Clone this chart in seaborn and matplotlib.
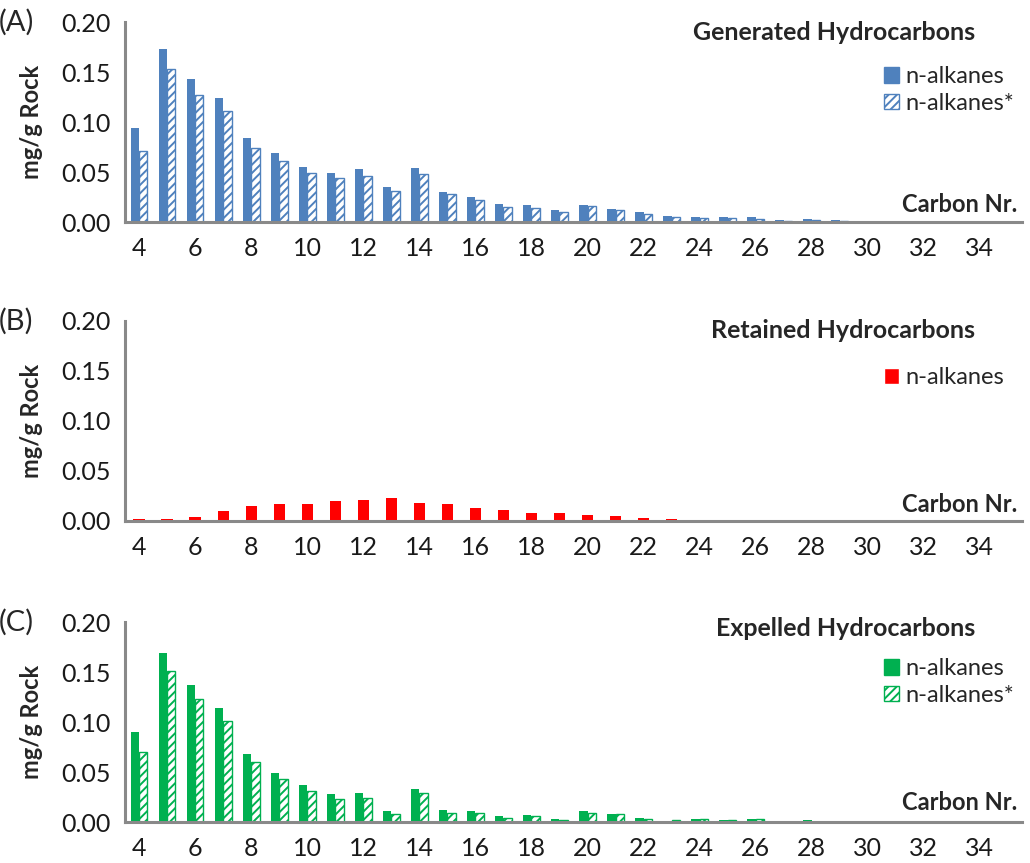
import numpy as np
import pandas as pd
import matplotlib
matplotlib.use('Agg')
import matplotlib.pyplot as plt
import seaborn as sns
from matplotlib.patches import Patch

carbon = list(range(4, 36))

# (A) generated
gen_nalk = [0.094, 0.173, 0.143, 0.124, 0.084, 0.069, 0.055, 0.049, 0.053, 0.035,
            0.054, 0.030, 0.025, 0.018, 0.017, 0.012, 0.017, 0.013, 0.010, 0.006,
            0.005, 0.005, 0.005, 0.002, 0.003, 0.002, 0, 0, 0, 0, 0, 0]
gen_nalk_star = [0.071, 0.153, 0.127, 0.111, 0.074, 0.061, 0.049, 0.044, 0.046, 0.031,
                 0.048, 0.028, 0.022, 0.015, 0.014, 0.010, 0.016, 0.012, 0.008, 0.005,
                 0.004, 0.004, 0.003, 0.001, 0.002, 0.001, 0, 0, 0, 0, 0, 0]
# (B) retained
ret_nalk = [0.002, 0.002, 0.004, 0.010, 0.015, 0.017, 0.017, 0.020, 0.021, 0.023,
            0.018, 0.017, 0.013, 0.011, 0.008, 0.008, 0.006, 0.0045, 0.003, 0.002,
            0, 0, 0, 0, 0, 0, 0, 0, 0, 0, 0, 0]
# (C) expelled
exp_nalk = [0.090, 0.169, 0.137, 0.114, 0.068, 0.049, 0.037, 0.028, 0.029, 0.011,
            0.033, 0.012, 0.011, 0.006, 0.007, 0.003, 0.011, 0.008, 0.0045, 0.0015,
            0.003, 0.002, 0.003, 0, 0.002, 0, 0, 0, 0, 0, 0, 0]
exp_nalk_star = [0.070, 0.151, 0.123, 0.101, 0.060, 0.043, 0.031, 0.023, 0.024, 0.008,
                 0.029, 0.0095, 0.009, 0.004, 0.006, 0.0025, 0.009, 0.0078, 0.0035, 0.0022,
                 0.0027, 0.0023, 0.003, 0, 0, 0, 0, 0, 0, 0, 0, 0]

blue = '#4F81BD'
red = '#FF0000'
green = '#00B050'
axis_grey = '#898989'

sns.set_style('white')
plt.rcParams['font.family'] = ['Lato', 'DejaVu Sans']
plt.rcParams['hatch.linewidth'] = 1.4

fig = plt.figure(figsize=(10.3, 8.63), dpi=100)
W, H = 1030, 863
left, right = 125, 1022


def make_ax(top_px):
    return fig.add_axes([left / W, 1 - (top_px + 200) / H, (right - left) / W, 200 / H])


def style_ax(ax, letter, title, title_y, leg_y, handles, carbon_y):
    ax.set_xlim(-0.5, len(carbon) - 0.5)
    ax.set_ylim(0, 0.2)
    ax.set_yticks([0, 0.05, 0.10, 0.15, 0.20])
    ax.set_yticklabels(['0.00', '0.05', '0.10', '0.15', '0.20'])
    ax.set_xticks(range(0, len(carbon), 2))
    ax.set_xticklabels([str(c) for c in carbon[::2]])
    ax.set_xticks(np.arange(-0.5, len(carbon), 1), minor=True)
    ax.tick_params(axis='x', which='major', length=0, pad=11, labelsize=18, colors='#1a1a1a')
    ax.tick_params(axis='x', which='minor', length=6, width=2, color=axis_grey, direction='out')
    ax.tick_params(axis='y', length=6, width=2, color=axis_grey, direction='out', pad=4,
                   labelsize=18, labelcolor='#1a1a1a')
    for s in ['top', 'right']:
        ax.spines[s].set_visible(False)
    for s in ['left', 'bottom']:
        ax.spines[s].set_color(axis_grey)
        ax.spines[s].set_linewidth(2.2)
    ax.set_xlabel('')
    ax.set_ylabel('')
    ax.text(-0.104, 0.5, 'mg/g Rock', transform=ax.transAxes, rotation=90,
            ha='center', va='center', fontsize=17, fontweight='bold')
    ax.text(-0.141, 1.0, letter, transform=ax.transAxes, ha='left', va='center', fontsize=21)
    ax.text(0.948, title_y, title, transform=ax.transAxes, ha='right', va='center',
            fontsize=18, fontweight='bold')
    ax.text(0.995, carbon_y, 'Carbon Nr.', transform=ax.transAxes, ha='right', va='center',
            fontsize=17, fontweight='bold')
    ax.legend(handles=handles, loc='upper left', bbox_to_anchor=(0.846, leg_y),
              frameon=False, fontsize=17, handlelength=0.65, handleheight=0.65,
              handletextpad=0.25, borderpad=0, borderaxespad=0, labelspacing=0.25)


def paired_panel(ax, solid, hatched, color):
    df = pd.DataFrame({
        'carbon': carbon * 2,
        'value': solid + hatched,
        'series': ['n-alkanes'] * len(carbon) + ['n-alkanes*'] * len(carbon),
    })
    sns.barplot(data=df, x='carbon', y='value', hue='series', order=carbon,
                hue_order=['n-alkanes', 'n-alkanes*'], palette=[color, color],
                width=0.6, legend=False, ax=ax, errorbar=None, saturation=1)
    for p in ax.containers[0]:
        p.set_linewidth(0)
    for p in ax.containers[1]:
        p.set_facecolor('white')
        p.set_edgecolor(color)
        p.set_hatch('////')
        p.set_linewidth(1.0)
    return [Patch(facecolor=color, edgecolor=color, label='n-alkanes'),
            Patch(facecolor='white', edgecolor=color, hatch='////', label='n-alkanes*')]


# (A)
ax_a = make_ax(22)
h = paired_panel(ax_a, gen_nalk, gen_nalk_star, blue)
style_ax(ax_a, '(A)', 'Generated Hydrocarbons', 0.95, 0.78, h, 0.085)

# (B)
ax_b = make_ax(321)
df_b = pd.DataFrame({'carbon': carbon, 'value': ret_nalk})
sns.barplot(data=df_b, x='carbon', y='value', order=carbon, color=red, width=0.4,
            ax=ax_b, errorbar=None, saturation=1)
for p in ax_b.containers[0]:
    p.set_linewidth(0)
style_ax(ax_b, '(B)', 'Retained Hydrocarbons', 0.955, 0.77,
         [Patch(facecolor=red, label='n-alkanes')], 0.08)

# (C)
ax_c = make_ax(622)
h = paired_panel(ax_c, exp_nalk, exp_nalk_star, green)
style_ax(ax_c, '(C)', 'Expelled Hydrocarbons', 0.97, 0.82, h, 0.10)

fig.savefig('out.png', dpi=100)
